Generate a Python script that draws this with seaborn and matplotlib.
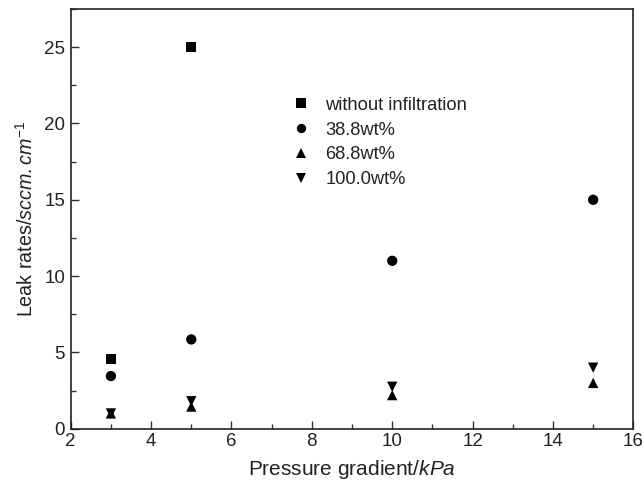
import numpy as np
import pandas as pd
import matplotlib
matplotlib.use("Agg")
import matplotlib.pyplot as plt
from matplotlib.ticker import MultipleLocator
import seaborn as sns

x_wo = [3, 5]
y_wo = [4.55, 25.0]
x_388 = [3, 5, 10, 15]
y_388 = [3.45, 5.85, 11.0, 15.0]
x_688 = [3, 5, 10, 15]
y_688 = [1.0, 1.45, 2.2, 3.0]
x_100 = [3, 5, 10, 15]
y_100 = [1.0, 1.8, 2.75, 4.0]
labels = ["without infiltration", "38.8wt%", "68.8wt%", "100.0wt%"]

rows = []
for lab, xs, ys in zip(labels, [x_wo, x_388, x_688, x_100], [y_wo, y_388, y_688, y_100]):
    for a, b in zip(xs, ys):
        rows.append({"x": a, "y": b, "series": lab})
df = pd.DataFrame(rows)

sns.set_style("ticks")
plt.rcParams['font.family'] = ['Liberation Sans', 'DejaVu Sans']
plt.rcParams['mathtext.fontset'] = 'custom'
plt.rcParams['mathtext.rm'] = 'Liberation Sans'
plt.rcParams['mathtext.it'] = 'Liberation Sans:italic'
plt.rcParams['mathtext.bf'] = 'Liberation Sans:bold'

TXT = "#222222"
fig = plt.figure(figsize=(6.43, 4.83), dpi=100)
ax = fig.add_axes([0.110, 0.1124, 0.875, 0.869])

markers = {labels[0]: "s", labels[1]: "o", labels[2]: "^", labels[3]: "v"}
sns.scatterplot(data=df, x="x", y="y", style="series", markers=markers,
                color="black", s=55, edgecolor="black", linewidth=0, ax=ax,
                legend=True)

ax.set_xlim(2, 16)
ax.set_ylim(0, 27.5)
ax.xaxis.set_major_locator(MultipleLocator(2))
ax.xaxis.set_minor_locator(MultipleLocator(1))
ax.yaxis.set_major_locator(MultipleLocator(5))
ax.yaxis.set_minor_locator(MultipleLocator(2.5))
ax.tick_params(which="major", direction="in", length=6, width=1, labelsize=13.5,
               colors="#333333", labelcolor=TXT)
ax.tick_params(which="minor", direction="in", length=3.5, width=1, colors="#333333")
ax.tick_params(axis="x", pad=3)
ax.tick_params(axis="y", pad=4)
for sp in ax.spines.values():
    sp.set_visible(True)
    sp.set_linewidth(1.2)
    sp.set_color("#222222")

ax.set_xlabel("Pressure gradient/$\\it{kPa}$", fontsize=15, color=TXT, labelpad=6)
ax.set_ylabel("Leak rates/$\\it{sccm.cm}^{\\it{-1}}$", fontsize=14.2, color=TXT, labelpad=5)

handles, labs = ax.get_legend_handles_labels()
leg = ax.legend(handles, labs, loc="upper left", bbox_to_anchor=(0.363, 0.83),
                frameon=False, fontsize=13.2, handlelength=1.0, handletextpad=0.85,
                labelspacing=0.42, markerscale=0.9, borderpad=0.4)
for t in leg.get_texts():
    t.set_color(TXT)

fig.savefig("out.png", dpi=100)
